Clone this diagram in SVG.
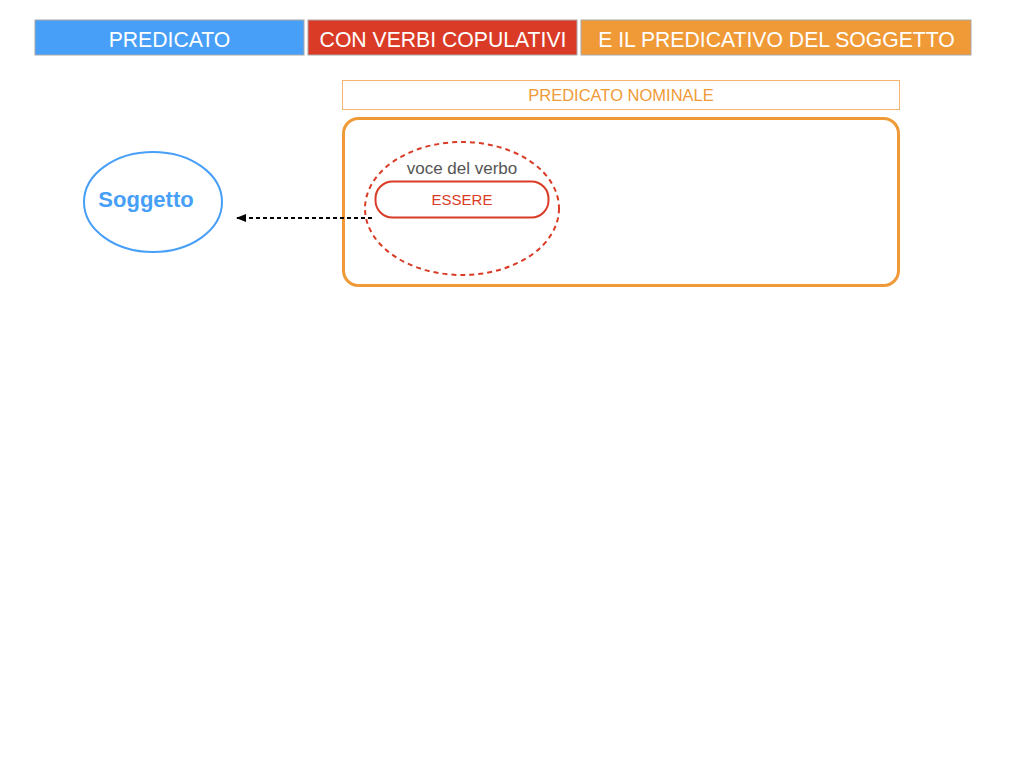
<svg xmlns="http://www.w3.org/2000/svg" width="1024" height="768" viewBox="0 0 1024 768">
<defs>
<style>
text{font-family:"Liberation Sans",Arial,sans-serif;text-anchor:middle}
.hdr{stroke:#a8a8a8;stroke-width:1}
.ht{fill:#fff;font-size:21.2px}
</style>
<marker id="ah" markerWidth="10" markerHeight="8" refX="9" refY="4" orient="auto" markerUnits="userSpaceOnUse">
<path d="M0,0 L10,4 L0,8 Z" fill="#000"/>
</marker>
</defs>
<rect width="1024" height="768" fill="#fff"/>
<g id="h1"><rect class="hdr" x="35" y="20" width="269" height="35" fill="#479ff8"/><text class="ht" x="169.5" y="46.5">PREDICATO</text></g>
<g id="h2"><rect class="hdr" x="308" y="20" width="269" height="35" fill="#da3b26"/><text class="ht" x="443" y="46.5">CON VERBI COPULATIVI</text></g>
<g id="h3"><rect class="hdr" x="581" y="20" width="390" height="35" fill="#f09a37"/><text class="ht" x="776.5" y="46.5">E IL PREDICATIVO DEL SOGGETTO</text></g>
<g id="pn"><rect x="342.5" y="80.5" width="557" height="29" fill="none" stroke="#f5b570" stroke-width="1"/><text x="621" y="101" font-size="16.5" fill="#f09a37">PREDICATO NOMINALE</text></g>
<g id="box"><rect x="343.5" y="118.5" width="555" height="167" rx="15" fill="none" stroke="#f09a37" stroke-width="3"/></g>
<g id="voce"><ellipse cx="462" cy="208.5" rx="97" ry="66.5" fill="none" stroke="#da3b26" stroke-width="2" stroke-dasharray="5,4"/><text x="462" y="174" font-size="17" fill="#555">voce del verbo</text></g>
<g id="essere"><rect x="375.5" y="181.5" width="173" height="36" rx="17" fill="#fff" stroke="#da3b26" stroke-width="2"/><text x="462" y="205" font-size="15" fill="#da3b26">ESSERE</text></g>
<g id="soggetto"><ellipse cx="153" cy="202" rx="69" ry="50" fill="none" stroke="#479ff8" stroke-width="2"/><text x="146" y="207" font-size="22" font-weight="bold" fill="#479ff8">Soggetto</text></g>
<g id="connectors"><line x1="372" y1="218" x2="237" y2="218" stroke="#000" stroke-width="2" stroke-dasharray="4,3" marker-end="url(#ah)"/></g>
</svg>
